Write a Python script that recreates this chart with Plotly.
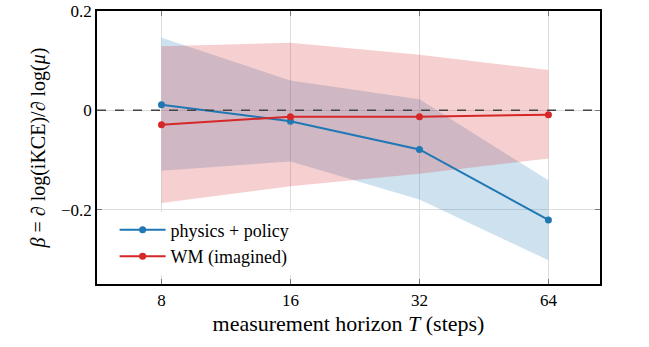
import plotly.graph_objects as go

horizons = ["8", "16", "32", "64"]
pp_mean = [0.011, -0.022, -0.079, -0.221]
pp_upper = [0.146, 0.060, 0.022, -0.141]
pp_lower = [-0.122, -0.103, -0.180, -0.302]
wm_mean = [-0.029, -0.013, -0.013, -0.009]
wm_upper = [0.129, 0.136, 0.112, 0.081]
wm_lower = [-0.187, -0.153, -0.128, -0.097]

BLUE = "#1f77b4"
RED = "#d62728"
FONT = "Liberation Serif, Times New Roman, serif"

fig = go.Figure()
# bands
fig.add_trace(go.Scatter(x=horizons, y=pp_upper, mode="lines", line=dict(width=0),
                         showlegend=False, hoverinfo="skip"))
fig.add_trace(go.Scatter(x=horizons, y=pp_lower, mode="lines", line=dict(width=0),
                         fill="tonexty", fillcolor="rgba(31,119,180,0.22)",
                         showlegend=False, hoverinfo="skip"))
fig.add_trace(go.Scatter(x=horizons, y=wm_upper, mode="lines", line=dict(width=0),
                         showlegend=False, hoverinfo="skip"))
fig.add_trace(go.Scatter(x=horizons, y=wm_lower, mode="lines", line=dict(width=0),
                         fill="tonexty", fillcolor="rgba(214,39,40,0.22)",
                         showlegend=False, hoverinfo="skip"))

fig.add_hline(y=0, line=dict(color="#444444", width=1.5, dash="dash"))

fig.add_trace(go.Scatter(x=horizons, y=pp_mean, mode="lines+markers", name="physics + policy",
                         line=dict(color=BLUE, width=2), marker=dict(size=7, color=BLUE)))
fig.add_trace(go.Scatter(x=horizons, y=wm_mean, mode="lines+markers", name="WM (imagined)",
                         line=dict(color=RED, width=2), marker=dict(size=7, color=RED)))

fig.update_layout(
    width=649, height=347,
    margin=dict(l=97, r=49, t=11, b=63, autoexpand=False),
    paper_bgcolor="white", plot_bgcolor="white",
    font=dict(family=FONT, size=17, color="black"),
    showlegend=True,
    legend=dict(x=0.035, y=0.265, xanchor="left", yanchor="top",
                bgcolor="white", borderwidth=0, font=dict(size=18),
                traceorder="normal", tracegroupgap=0, itemwidth=46),
)
fig.update_xaxes(
    type="category", range=[-0.5, 3.4], automargin=False,
    showgrid=True, gridcolor="#dddddd", gridwidth=1,
    showline=True, linecolor="black", linewidth=1.5, mirror="ticks",
    ticks="inside", ticklen=5, tickcolor="#777777",
    tickfont=dict(size=17),
    title=dict(text="measurement horizon <i>T</i> (steps)", font=dict(size=22), standoff=6),
    zeroline=False,
)
fig.update_yaxes(
    range=[-0.35, 0.2], tickvals=[-0.2, 0, 0.2], ticktext=["\u22120.2", "0", "0.2"],
    automargin=False,
    showgrid=True, gridcolor="#dddddd", gridwidth=1,
    showline=True, linecolor="black", linewidth=1.5, mirror="ticks",
    ticks="inside", ticklen=5, tickcolor="#777777",
    tickfont=dict(size=17),
    title=dict(text="<i>β</i> = ∂ log(iKCE)/∂ log(<i>μ</i>)", font=dict(size=20), standoff=10),
    zeroline=False,
)

fig.write_html("out.html", config={"displayModeBar": False},
               post_script="document.body.style.margin='0';")
